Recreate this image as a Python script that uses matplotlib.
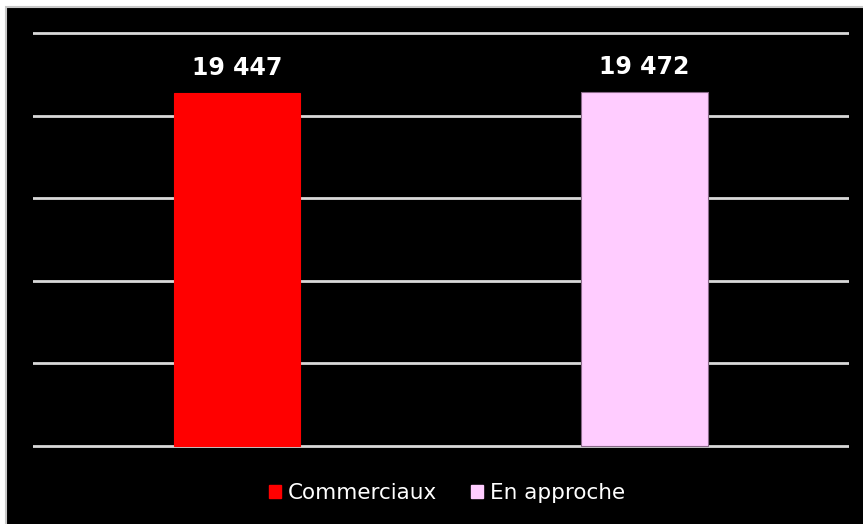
import matplotlib
matplotlib.use("Agg")
import matplotlib.pyplot as plt
from matplotlib.patches import Rectangle, Patch
import numpy as np

categories = ["Commerciaux", "En approche"]
values = [19447, 19472]
labels = ["19 447", "19 472"]
colors = ["#ff0000", "#ffccff"]
edgecolors = ["#ff0000", "#8a6a8a"]

fig = plt.figure(figsize=(8.63, 5.24), dpi=100)
fig.patch.set_facecolor("white")

bg = fig.add_axes([0, 0, 1, 1], zorder=0)
bg.set_xlim(0, 863)
bg.set_ylim(524, 0)
bg.axis("off")
bg.add_patch(Rectangle((5.5, 6.5), 870, 530, facecolor="black", edgecolor="#c8c8c8", linewidth=1.5))

base_px = 445.5
top_px = 33.3
pad_px = 4.0
H = base_px - top_px
ax = fig.add_axes([33/863, 1 - (base_px + pad_px)/524, (848.5 - 33)/863, (H + 2 * pad_px)/524], zorder=2)
ax.patch.set_alpha(0)

step = 4546
ymax = 5 * step
per_px = ymax / H
ax.set_ylim(-pad_px * per_px, ymax + pad_px * per_px)
ax.set_xlim(-0.5, 1.5)
ticks = np.linspace(0, ymax, 6)
ax.set_yticks(ticks)
for t in ticks:
    ax.axhline(t, color="#d9d9d9", linewidth=2, zorder=1)
ax.tick_params(left=False, bottom=False, labelleft=False, labelbottom=False)
for s in ax.spines.values():
    s.set_visible(False)

x = np.arange(len(categories))
bars = ax.bar(x, values, width=0.31, color=colors, edgecolor=edgecolors, linewidth=0.8, zorder=3)
for xi, v, lab in zip(x, values, labels):
    ax.annotate(lab, (xi, v), xytext=(0, 9.5), textcoords="offset points",
                ha="center", va="bottom", color="white", fontsize=17, fontweight="bold")

handles = [Patch(facecolor=c, edgecolor=c) for c in colors]
leg = fig.legend(handles, categories, loc="center", bbox_to_anchor=(0.518, 0.059), ncol=2,
                 frameon=False, fontsize=15.5, handlelength=0.55, handleheight=0.6,
                 handletextpad=0.3, columnspacing=1.6)
leg.set_zorder(5)
for t in leg.get_texts():
    t.set_color("white")

fig.savefig("out.png", dpi=100, facecolor=fig.get_facecolor())
